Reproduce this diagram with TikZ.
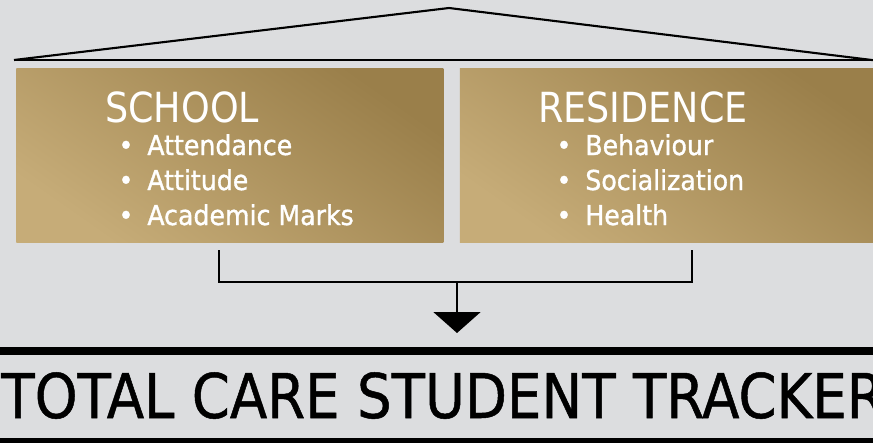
\documentclass[tikz,border=0pt]{standalone}
\usepackage{fontspec}
\setmainfont{DejaVu Sans}
\newfontfamily\headfont[FakeStretch=0.88]{DejaVu Sans}
\newfontfamily\itemfont[FakeStretch=0.92, FakeBold=1.2]{DejaVu Sans}
\newfontfamily\titlefont[FakeStretch=0.885, FakeBold=0.8]{DejaVu Sans}
\usetikzlibrary{positioning,arrows.meta}
\definecolor{bgGray}{HTML}{DCDDDF}
\definecolor{goldLight}{HTML}{C6AC78}
\definecolor{goldDark}{HTML}{9A7F4A}

\begin{document}
\begin{tikzpicture}[x=0.02cm, y=-0.02cm, node distance=0.32cm,
    every node/.style={inner sep=0pt},
    goldbox/.style={rectangle, minimum width=8.54cm, minimum height=3.48cm,
      left color=goldLight, right color=goldDark, shading angle=145},
    heading/.style={anchor=base west, text=white, font=\headfont\fontsize{23.6}{28}\selectfont},
    item/.style={anchor=base west, text=white, font=\itemfont\fontsize{15.6}{20}\selectfont},
    line/.style={line width=1.2pt, black}]

	\fill[bgGray] (0,0) rectangle (873,443);
	\useasboundingbox (0,0) rectangle (873,443);

	% roof
	\coordinate (roofL) at (14,60);
	\coordinate (roofT) at (449,8);
	\coordinate (roofR) at (880,61);
	\draw[line] (roofL) -- (roofT) -- (roofR);
	\draw[line] (roofL) -- (roofR |- roofL);

	% the two boxes
	\node[goldbox, anchor=north west] (school) at (16,68) {};
	\node[goldbox, right=of school] (residence) {};

	\node[heading] (schoolHead) at (105,122) {SCHOOL};
	\node[heading] (residenceHead) at (538,122) {RESIDENCE};

	\foreach \txt [count=\i] in {Attendance, Attitude, Academic Marks} {
		\node[item, anchor=base] (schoolDot\i) at (126,120+35*\i) {•};
		\node[item] (schoolItem\i) at (147,120+35*\i) {\txt};
	}
	\foreach \txt [count=\i] in {Behaviour, Socialization, Health} {
		\node[item, anchor=base] (residenceDot\i) at (564,120+35*\i) {•};
		\node[item] (residenceItem\i) at (585,120+35*\i) {\txt};
	}

	% bracket and arrow
	\coordinate (bracketL) at (219,250);
	\coordinate (bracketR) at (692,250);
	\coordinate (bracketM) at (457,282);
	\coordinate (arrowTip) at (457,333);
	\draw[line] (bracketL) |- (bracketR |- bracketM) -- (bracketR);
	\draw[line, -{Triangle[width=0.94cm, length=0.42cm]}] (bracketM) -- (arrowTip);

	% title between two rules
	\coordinate (ruleTop) at (0,351);
	\coordinate (ruleBottom) at (0,441.5);
	\draw[line width=4pt] (ruleTop) -- +(873,0);
	\node[anchor=base west, font=\titlefont\fontsize{35.1}{40}\selectfont] (title) at (1,418) {TOTAL CARE STUDENT TRACKER};
	\draw[line width=4pt] (ruleBottom) -- +(873,0);
\end{tikzpicture}
\end{document}
